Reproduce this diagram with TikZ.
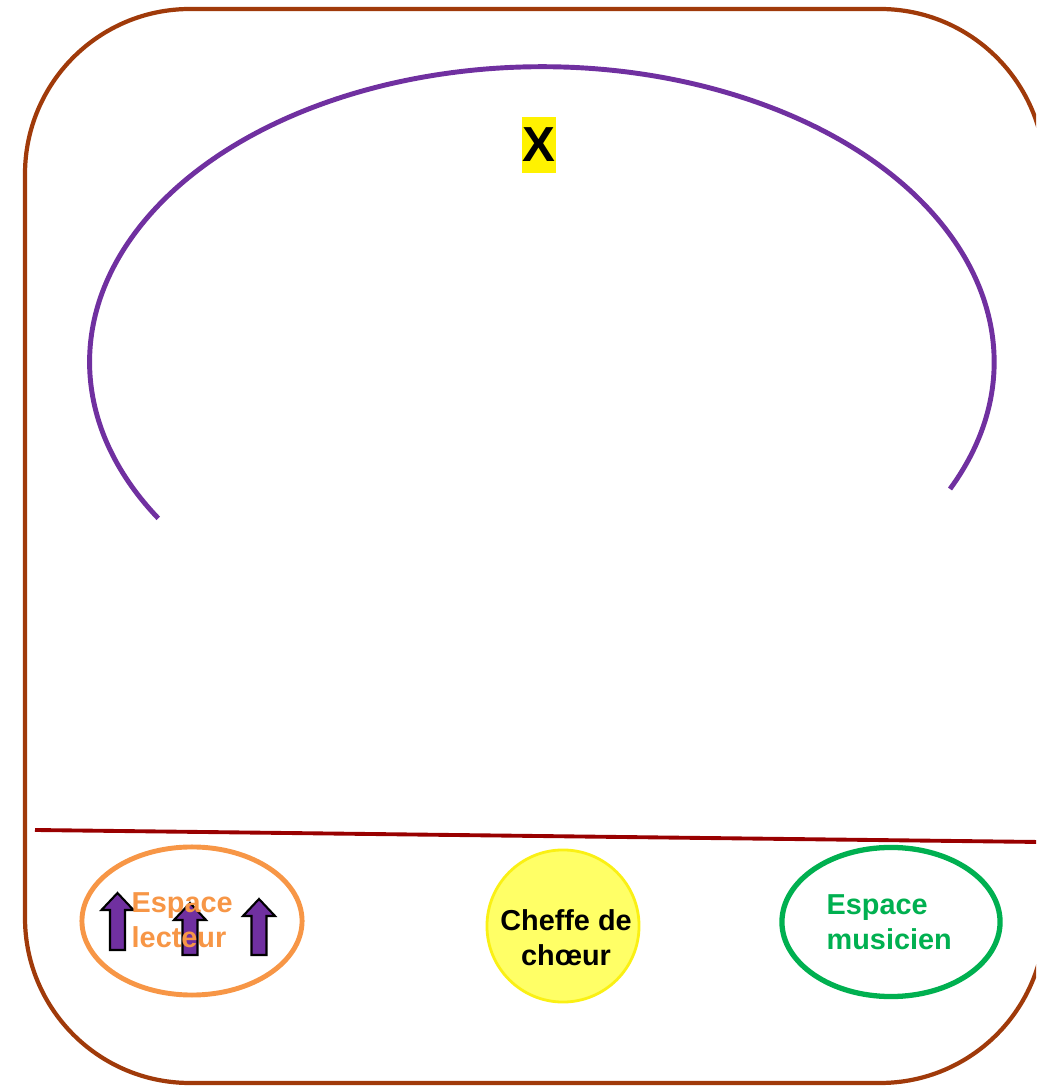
\documentclass[tikz,border=0pt]{standalone}
\usepackage{fontspec}
\setmainfont{Liberation Sans}
\usetikzlibrary{shapes,shapes.geometric}
\usetikzlibrary{positioning}
\definecolor{roomborder}{RGB}{160,58,10}
\definecolor{stageline}{RGB}{153,0,0}
\definecolor{choirpurple}{RGB}{112,48,160}
\definecolor{readerorange}{RGB}{247,150,70}
\definecolor{musicgreen}{RGB}{0,176,80}
\definecolor{chefyellow}{RGB}{255,255,102}
\definecolor{chefborder}{RGB}{250,240,20}
\newcommand{\lecarrow}[3]{\draw[lecarr] (#1-7.5,#2) -- (#1-7.5,#3-17) -- (#1-16,#3-17) -- (#1,#3) -- (#1+16,#3-17) -- (#1+7.5,#3-17) -- (#1+7.5,#2) -- cycle;}
\tikzset{
  lecarr/.style={fill=choirpurple,draw=black,line width=0.6pt,line join=miter},
  zonetxt/.style={font=\bfseries\fontsize{8.2}{9.9}\selectfont,align=left,inner sep=0pt}
}

\begin{document}
\begin{tikzpicture}[x=0.01cm,y=0.01cm]
\useasboundingbox (0,0) rectangle (1036,1088);
\clip (0,0) rectangle (1036,1088);
\draw[roomborder,line width=1.2pt,rounded corners=1.65cm] (25,5) rectangle (1045,1079);
\draw[stageline,line width=1.1pt] (35,258) -- (1040,246);
\draw[choirpurple,line width=1.4pt] (950,599) arc[start angle=-25.5,end angle=212,x radius=4.52cm,y radius=2.95cm];
\draw(539,943) node[fill=yellow,inner sep=0pt,minimum width=0.34cm,minimum height=0.55cm,font=\bfseries\fontsize{14}{16}\selectfont] (X) {X};
\draw(192,167) node[ellipse,draw=readerorange,line width=1.4pt,minimum width=2.2cm,minimum height=1.48cm] (lecteur) {};
\lecarrow{117.5}{138}{195}
\lecarrow{190}{133}{185}
\lecarrow{259}{133}{189}
\draw(131,168) node[zonetxt,anchor=west,text=readerorange] (lecteurtxt) {Espace\\lecteur};
\draw(563,162) node[circle,fill=chefyellow,draw=chefborder,line width=0.8pt,minimum size=1.52cm] (chef) {};
\draw(566,150) node[zonetxt,align=center] (cheftxt) {Cheffe de\\chœur};
\draw(891,166) node[ellipse,draw=musicgreen,line width=1.5pt,minimum width=2.18cm,minimum height=1.49cm] (musicien) {};
\draw(826,166) node[zonetxt,anchor=west,text=musicgreen] (musicientxt) {Espace\\musicien};
\end{tikzpicture}
\end{document}
